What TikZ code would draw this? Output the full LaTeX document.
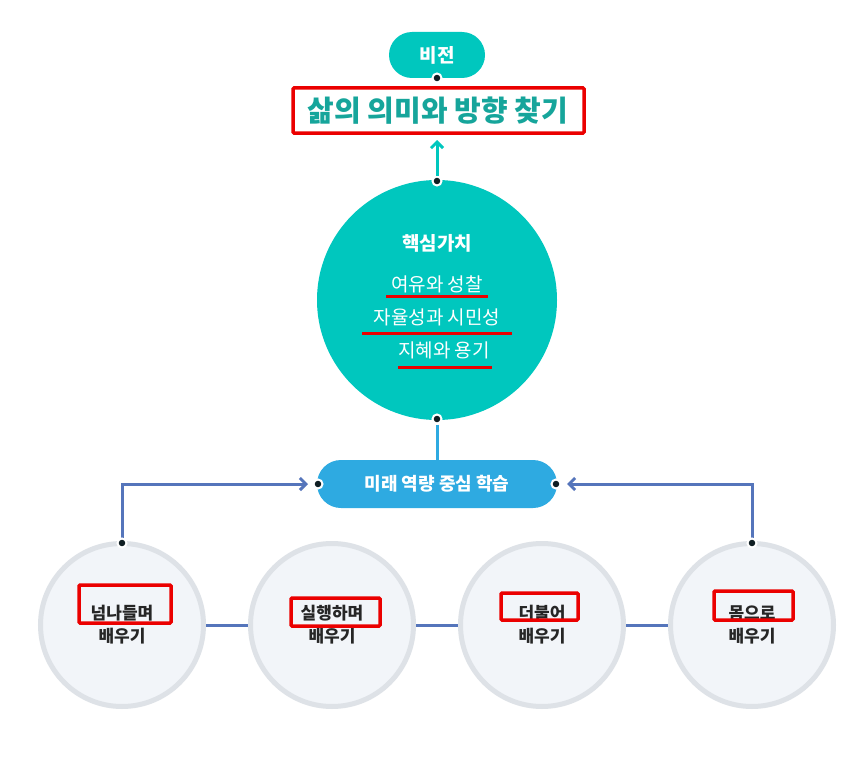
\documentclass[tikz,border=0pt]{standalone}
\usepackage{fontspec}
\setmainfont{Noto Sans CJK KR}
\usetikzlibrary{arrows.meta}
\definecolor{teal1}{RGB}{0,199,190}
\definecolor{tealtxt}{RGB}{22,165,155}
\definecolor{blue1}{RGB}{46,170,225}
\definecolor{blue2}{RGB}{85,117,187}
\definecolor{ring}{RGB}{222,226,231}
\definecolor{cfill}{RGB}{242,245,249}
\definecolor{dotc}{RGB}{15,30,35}
\definecolor{red1}{RGB}{235,0,0}
\tikzset{x=1pt,y=-1pt,
 dotn/.style={circle,fill=dotc,draw=white,line width=2pt,inner sep=0pt,minimum size=9pt},
 small/.style={circle,draw=ring,line width=5pt,fill=cfill,minimum size=163pt,inner sep=0pt,align=center,font=\fontsize{17}{23}\selectfont\bfseries,text=black!85},
 redbox/.style={draw=red1,line width=3.5pt,rounded corners=1pt},
 redline/.style={draw=red1,line width=3pt}}
\begin{document}
\begin{tikzpicture}
\useasboundingbox (0,0) rectangle (855,760);
\fill[white] (0,0) rectangle (855,760);
% vision
\node[fill=teal1,rounded corners=23pt,minimum width=96pt,minimum height=46pt,text=white,font=\fontsize{19}{22}\selectfont\bfseries] (vis) at (437,55) {비전};
\node[font=\fontsize{29}{34}\selectfont\bfseries,text=tealtxt] (goal) at (438,111) {삶의 의미와 방향 찾기};
\draw[redbox] (293,88) rectangle (584,133);
\node[dotn] (d1) at (437,78) {};
% core circle
\node[circle,fill=teal1,minimum size=240pt,inner sep=0pt] (core) at (437,300) {};
\node[text=white,font=\fontsize{19}{22}\selectfont\bfseries] (t0) at (437,243) {핵심가치};
\node[text=white,font=\fontsize{19}{22}\selectfont] (t1) at (437,284) {여유와 성찰};
\node[text=white,font=\fontsize{19}{22}\selectfont] (t2) at (437,317) {자율성과 시민성};
\node[text=white,font=\fontsize{19}{22}\selectfont] (t3) at (444,350) {지혜와 용기};
\draw[redline] (386,296) -- (488,296);
\draw[redline] (362,333) -- (512,333);
\draw[redline] (398,367) -- (492,367);
\node[dotn] (d2) at (437,181) {};
\coordinate (ah) at (437,140);
\draw[teal1,line width=3pt,-{Straight Barb[length=6pt,width=12pt]}] (d2) -- (ah);
% learning pill
\node[fill=blue1,rounded corners=24pt,minimum width=240pt,minimum height=48pt,text=white,font=\fontsize{18}{22}\selectfont\bfseries] (learn) at (437,484) {미래 역량 중심 학습};
\node[dotn] (d3) at (437,419) {};
\draw[blue1,line width=3pt] (d3) -- (learn.north);
\node[dotn] (dl) at (318,484) {};
\node[dotn] (dr) at (556,484) {};
% small circles
\node[small] (c1) at (122,625) {넘나들며\\배우기};
\node[small] (c2) at (332,625) {실행하며\\배우기};
\node[small] (c3) at (542,625) {더불어\\배우기};
\node[small] (c4) at (752,625) {몸으로\\배우기};
\draw[blue2,line width=3pt] (c1.east) -- (c2.west) (c2.east) -- (c3.west) (c3.east) -- (c4.west);
\draw[redbox] (79,585) rectangle (171,623);
\draw[redbox] (291,598) rectangle (380,626);
\draw[redbox] (501,593) rectangle (578,620);
\draw[redbox] (714,591) rectangle (793,620);
\coordinate (la) at (308,484);
\coordinate (ra) at (567,484);
\draw[blue2,line width=3pt,-{Straight Barb[length=6pt,width=12pt]}] (122,543) -- (122,484) -- (la);
\draw[blue2,line width=3pt,-{Straight Barb[length=6pt,width=12pt]}] (752,543) -- (752,484) -- (ra);
\node[dotn] (dc1) at (122,543) {};
\node[dotn] (dc4) at (752,543) {};
\end{tikzpicture}
\end{document}
